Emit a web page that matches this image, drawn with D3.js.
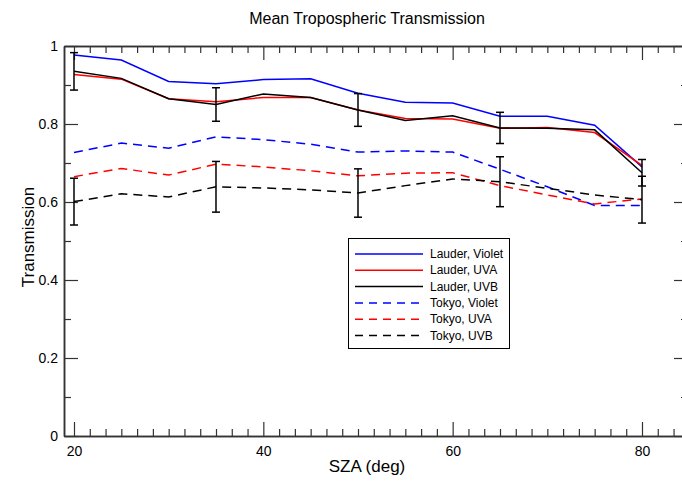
<!DOCTYPE html>
<html><head><meta charset="utf-8">
<script src="https://cdn.jsdelivr.net/npm/d3@7"></script>
<style>body{margin:0;background:#fff}svg{display:block;font-family:"Liberation Sans",Arial,sans-serif}</style>
</head><body>
<svg id="c" width="682" height="481"></svg>
<script>
const sza = [20,25,30,35,40,45,50,55,60,65,70,75,80];
const lauderViolet = [0.977,0.964,0.909,0.903,0.914,0.916,0.879,0.856,0.854,0.820,0.820,0.797,0.690];
const lauderUVA    = [0.927,0.915,0.865,0.857,0.868,0.868,0.836,0.814,0.813,0.789,0.791,0.778,0.694];
const lauderUVB    = [0.935,0.917,0.865,0.850,0.877,0.868,0.836,0.809,0.821,0.790,0.789,0.785,0.675];
const tokyoViolet  = [0.727,0.751,0.738,0.767,0.760,0.748,0.728,0.731,0.728,0.684,0.639,0.591,0.591];
const tokyoUVA     = [0.665,0.686,0.669,0.697,0.690,0.680,0.667,0.674,0.675,0.642,0.618,0.595,0.608];
const tokyoUVB     = [0.601,0.621,0.613,0.639,0.636,0.631,0.623,0.642,0.659,0.652,0.635,0.618,0.606];
const errSza       = [20,35,50,65,80];
const lauderErr    = [0.048,0.043,0.042,0.040,0.034];
const tokyoErr     = [0.060,0.065,0.062,0.064,0.060];
const xTicks = [20,40,60,80];
const yTicks = [0,0.2,0.4,0.6,0.8,1];
const yTickLabels = ["0","0.2","0.4","0.6","0.8","1"];
const seriesNames = ["Lauder, Violet","Lauder, UVA","Lauder, UVB","Tokyo, Violet","Tokyo, UVA","Tokyo, UVB"];
const seriesValues = [lauderViolet,lauderUVA,lauderUVB,tokyoViolet,tokyoUVA,tokyoUVB];
const seriesColors = ["#0000ff","#ff0000","#000000","#0000ff","#ff0000","#000000"];
const seriesDashed = [false,false,false,true,true,true];

const svg = d3.select("#c");
const L=64, R=688, T=46, B=436;
const x = d3.scaleLinear().domain([18.944, 84.86]).range([L, R]);
const y = d3.scaleLinear().domain([0,1]).range([B, T]);

const minorX = d3.range(-6, 45).map(i => 20 + i*20/12).filter(v => v > x.domain()[0] && v < x.domain()[1] && Math.abs(((v-20)/20) - Math.round((v-20)/20)) > 1e-6);
const minorY = [0.1,0.3,0.5,0.7,0.9];

function styleAxis(g){
  g.selectAll("path.domain").attr("stroke","#333").attr("stroke-width",1.5);
  g.selectAll(".tick line").attr("stroke","#333").attr("stroke-width",1.2);
  g.selectAll("text").attr("font-family","Liberation Sans, Arial, sans-serif").attr("font-size",14).attr("fill","#000");
}
// bottom
svg.append("g").attr("transform",`translate(0,${B})`)
  .call(d3.axisBottom(x).tickValues(xTicks).tickFormat(d3.format("d")).tickSizeInner(-14).tickSizeOuter(0).tickPadding(10)).call(styleAxis);
svg.append("g").attr("transform",`translate(0,${B})`)
  .call(d3.axisBottom(x).tickValues(minorX).tickFormat("").tickSizeInner(-7).tickSizeOuter(0)).call(styleAxis);
// top
svg.append("g").attr("transform",`translate(0,${T})`)
  .call(d3.axisTop(x).tickValues(xTicks).tickFormat("").tickSizeInner(-14).tickSizeOuter(0)).call(styleAxis);
svg.append("g").attr("transform",`translate(0,${T})`)
  .call(d3.axisTop(x).tickValues(minorX).tickFormat("").tickSizeInner(-7).tickSizeOuter(0)).call(styleAxis);
// left
svg.append("g").attr("transform",`translate(${L},0)`)
  .call(d3.axisLeft(y).tickValues(yTicks).tickFormat((d,i)=>yTickLabels[i]).tickSizeInner(-14).tickSizeOuter(0).tickPadding(6)).call(styleAxis);
svg.append("g").attr("transform",`translate(${L},0)`)
  .call(d3.axisLeft(y).tickValues(minorY).tickFormat("").tickSizeInner(-7).tickSizeOuter(0)).call(styleAxis);
// right
svg.append("g").attr("transform",`translate(${R},0)`)
  .call(d3.axisRight(y).tickValues(yTicks).tickFormat("").tickSizeInner(-14).tickSizeOuter(0)).call(styleAxis);
svg.append("g").attr("transform",`translate(${R},0)`)
  .call(d3.axisRight(y).tickValues(minorY).tickFormat("").tickSizeInner(-7).tickSizeOuter(0)).call(styleAxis);

// lines
const line = d3.line().x((d,i)=>x(sza[i])).y(d=>y(d));
seriesValues.forEach((vals,k)=>{
  svg.append("path").datum(vals).attr("d",line).attr("fill","none")
    .attr("stroke",seriesColors[k]).attr("stroke-width",1.5)
    .attr("stroke-dasharray",seriesDashed[k]?"9,6":null);
});

// error bars
function errBars(center, errs){
  errSza.forEach((s,i)=>{
    const c = center[sza.indexOf(s)];
    const g = svg.append("g").attr("stroke","#000").attr("stroke-width",1.5);
    g.append("line").attr("x1",x(s)).attr("x2",x(s)).attr("y1",y(c-errs[i])).attr("y2",y(c+errs[i]));
    g.append("line").attr("x1",x(s)-4).attr("x2",x(s)+4).attr("y1",y(c-errs[i])).attr("y2",y(c-errs[i]));
    g.append("line").attr("x1",x(s)-4).attr("x2",x(s)+4).attr("y1",y(c+errs[i])).attr("y2",y(c+errs[i]));
  });
}
errBars(lauderUVB, lauderErr);
errBars(tokyoUVB, tokyoErr);

// legend
const lg = svg.append("g");
lg.append("rect").attr("x",348.5).attr("y",238.5).attr("width",161).attr("height",110).attr("fill","#fff").attr("stroke","#000").attr("stroke-width",1);
seriesNames.forEach((n,k)=>{
  const yy = 254 + k*16.3;
  lg.append("line").attr("x1",355).attr("x2",423).attr("y1",yy).attr("y2",yy)
    .attr("stroke",seriesColors[k]).attr("stroke-width",1.5).attr("stroke-dasharray",seriesDashed[k]?"8,6":null);
  lg.append("text").attr("x",430).attr("y",yy+4).attr("font-size",12).text(n);
});

// titles
svg.append("text").attr("x",367).attr("y",24).attr("text-anchor","middle").attr("font-size",16).text("Mean Tropospheric Transmission");
svg.append("text").attr("x",367).attr("y",472).attr("text-anchor","middle").attr("font-size",17).text("SZA (deg)");
svg.append("text").attr("transform","translate(34,237) rotate(-90)").attr("text-anchor","middle").attr("font-size",17).text("Transmission");
</script>
</body></html>
